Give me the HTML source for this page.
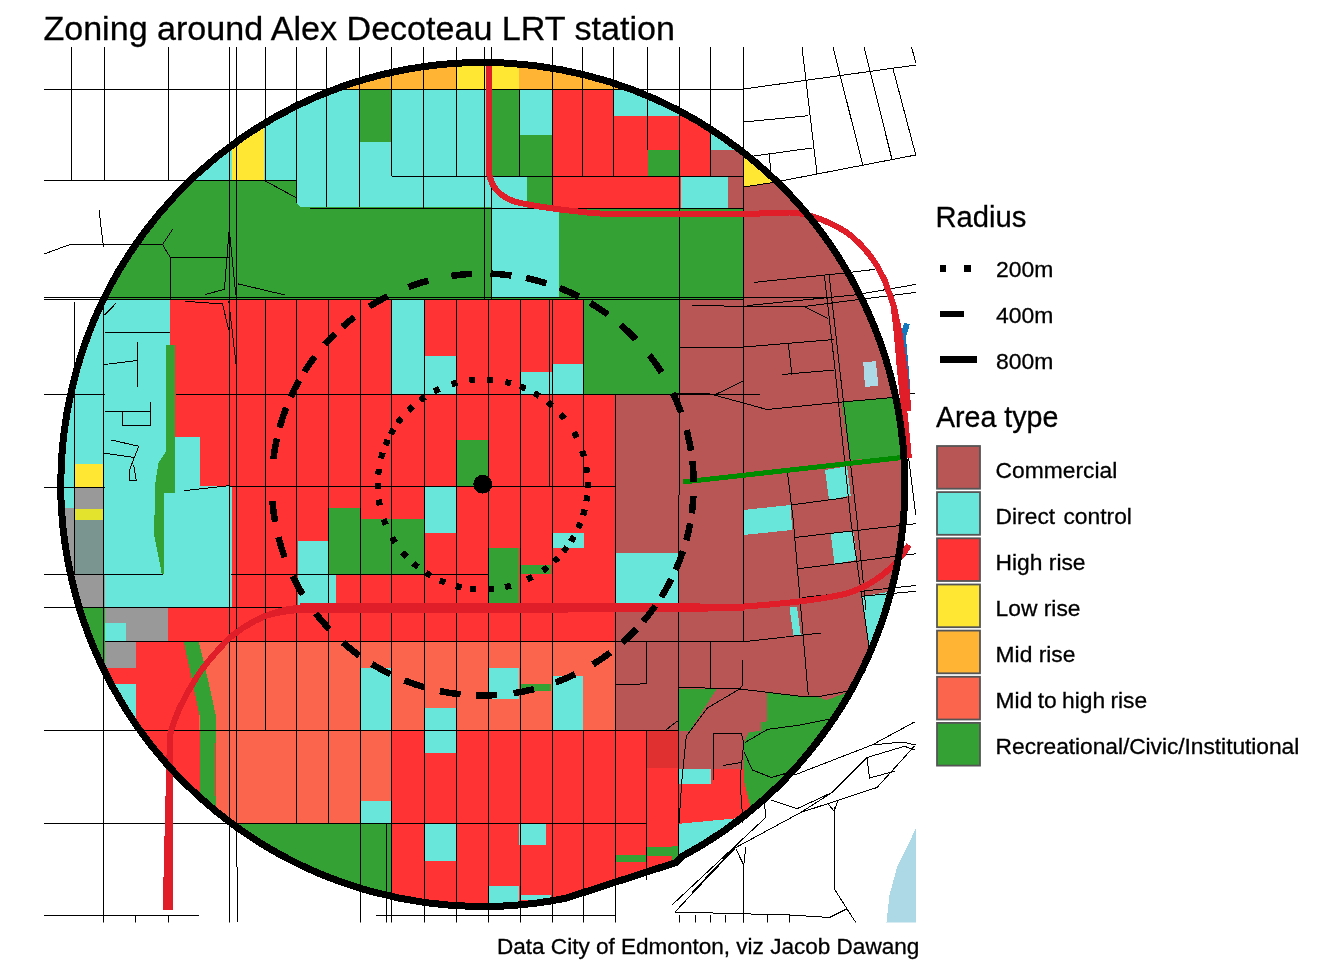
<!DOCTYPE html>
<html><head><meta charset="utf-8"><title>Zoning around Alex Decoteau LRT station</title>
<style>
html,body{margin:0;padding:0;background:#fff}
svg{display:block}
text{font-family:"Liberation Sans",Arial,sans-serif;fill:#000;stroke:#000;stroke-width:0.3px}
</style></head><body>
<svg width="1344" height="960" viewBox="0 0 1344 960">
<rect width="1344" height="960" fill="#fff"/>
<defs>
<clipPath id="circ"><path d="M565.9,898.2L676,862.5L680.9,857.1A422,422 0 1 0 565.9,898.2Z"/></clipPath>
<clipPath id="panel"><rect x="44" y="47" width="872" height="875.5"/></clipPath>
</defs>
<g clip-path="url(#panel)" shape-rendering="crispEdges">
<g clip-path="url(#circ)">
<rect x="40" y="40" width="880" height="890" fill="#FF3333"/>
<rect x="300" y="50" width="156" height="39" fill="#FFB533"/>
<rect x="456" y="50" width="63" height="39" fill="#FFE733"/>
<rect x="519" y="50" width="131" height="39" fill="#FFB533"/>
<rect x="150" y="89" width="82" height="92" fill="#69E6DA"/>
<rect x="232" y="89" width="31.5" height="92" fill="#FFE733"/>
<rect x="263.5" y="89" width="33.0" height="92" fill="#69E6DA"/>
<rect x="296.5" y="89" width="194.5" height="119" fill="#69E6DA"/>
<rect x="359.5" y="89" width="32.0" height="53" fill="#33A133"/>
<rect x="491" y="89" width="28" height="87.25" fill="#33A133"/>
<rect x="519" y="89" width="33.5" height="45.5" fill="#69E6DA"/>
<rect x="519" y="134.5" width="33.5" height="41.75" fill="#33A133"/>
<rect x="491" y="176.25" width="36" height="31.75" fill="#69E6DA"/>
<rect x="527" y="176.25" width="25.5" height="31.75" fill="#33A133"/>
<rect x="552.5" y="89" width="61.0" height="119" fill="#FF3333"/>
<rect x="613.5" y="89" width="86.5" height="27" fill="#69E6DA"/>
<rect x="613.5" y="116" width="66.25" height="92" fill="#FF3333"/>
<rect x="647.5" y="150" width="32.25" height="26.25" fill="#33A133"/>
<rect x="679.75" y="89" width="30.75" height="87.25" fill="#FF3333"/>
<rect x="710.5" y="89" width="33.25" height="61" fill="#69E6DA"/>
<rect x="710.5" y="150" width="33.25" height="26.25" fill="#B85555"/>
<rect x="680.75" y="176.25" width="47.25" height="31.75" fill="#69E6DA"/>
<rect x="728" y="176.25" width="15.75" height="31.75" fill="#B85555"/>
<rect x="40" y="181" width="256.5" height="118" fill="#33A133"/>
<polygon points="296.5,181 296.5,203 300,207 491,207 491,299 290,299 290,181" fill="#33A133"/>
<rect x="491" y="208" width="67.5" height="89.5" fill="#69E6DA"/>
<rect x="558.5" y="208" width="185.25" height="91.5" fill="#33A133"/>
<rect x="491" y="297.5" width="67.5" height="2.0" fill="#33A133"/>
<rect x="743.75" y="140" width="186.25" height="600" fill="#B85555"/>
<polygon points="743.75,140 800,140 773,182.5 743.75,187" fill="#FFE733"/>
<rect x="40" y="299" width="130" height="308" fill="#69E6DA"/>
<rect x="391.5" y="300" width="32.5" height="93.75" fill="#69E6DA"/>
<rect x="424" y="355.75" width="32" height="38.0" fill="#69E6DA"/>
<rect x="520.25" y="371.75" width="32.0" height="22.0" fill="#69E6DA"/>
<rect x="552.25" y="363.75" width="31.25" height="30.0" fill="#69E6DA"/>
<rect x="583.5" y="299.5" width="96.25" height="94.25" fill="#33A133"/>
<rect x="672" y="280" width="7.5" height="113.75" fill="#33A133"/>
<rect x="679.75" y="299.5" width="80.25" height="94.25" fill="#B85555"/>
<rect x="164" y="485.5" width="67.5" height="121.5" fill="#69E6DA"/>
<rect x="175" y="436.75" width="25" height="49.05" fill="#69E6DA"/>
<rect x="456.5" y="439.5" width="31.25" height="46.75" fill="#33A133"/>
<rect x="615.25" y="394" width="144.75" height="93" fill="#B85555"/>
<polygon points="841.5,402 893.25,397.5 902,456.25 850,460" fill="#33A133"/>
<polygon points="863.25,362.5 875.75,361 878.5,385.5 865,387" fill="#ADD8E6"/>
<polygon points="825,470 847,466.25 850.75,495.5 829,500" fill="#69E6DA"/>
<rect x="73.5" y="463.7" width="30.7" height="23.3" fill="#FFE733"/>
<rect x="73.5" y="487" width="30.7" height="21.5" fill="#999999"/>
<rect x="73.5" y="508.5" width="30.7" height="11.7" fill="#E3E32E"/>
<rect x="73.5" y="520.2" width="30.7" height="54.0" fill="#7A9590"/>
<rect x="40" y="508.3" width="33.5" height="65.9" fill="#999999"/>
<rect x="40" y="574.2" width="64.5" height="32.8" fill="#999999"/>
<rect x="104.5" y="487" width="59.5" height="120" fill="#69E6DA"/>
<polygon points="165.8,344.5 174.8,344.5 174.8,492.5 164.2,492.5 164.2,573.5 161.7,573.5 154.2,535 155,485 158.3,463.3 165.8,452" fill="#33A133"/>
<rect x="328.5" y="508.4" width="32.0" height="65.85" fill="#33A133"/>
<rect x="360.5" y="518.7" width="63.5" height="55.55" fill="#33A133"/>
<rect x="297.5" y="540.75" width="30.0" height="33.5" fill="#69E6DA"/>
<rect x="297.5" y="574.25" width="38.75" height="32.0" fill="#69E6DA"/>
<rect x="424.75" y="487" width="31.25" height="45.5" fill="#69E6DA"/>
<rect x="488.5" y="548.25" width="30.75" height="54.25" fill="#33A133"/>
<rect x="519.75" y="564.5" width="31.25" height="9.25" fill="#33A133"/>
<rect x="551.75" y="532.5" width="31.75" height="15.75" fill="#69E6DA"/>
<rect x="615.5" y="487" width="144.5" height="243.5" fill="#B85555"/>
<rect x="615.5" y="552.5" width="62.5" height="51.25" fill="#69E6DA"/>
<polygon points="743.25,510 790.75,505 792,530 743.25,535" fill="#69E6DA"/>
<polygon points="830.75,533.75 853.25,531.25 857,560 834.5,563.75" fill="#69E6DA"/>
<polygon points="789.5,607 797,607 800.75,635 793.25,635" fill="#69E6DA"/>
<polygon points="862,596.25 900,590 900,650 869.5,650" fill="#69E6DA"/>
<rect x="104.5" y="607" width="63.5" height="34.75" fill="#999999"/>
<rect x="104.5" y="622.5" width="21.75" height="18.75" fill="#69E6DA"/>
<polygon points="70,607 104.5,607 104.5,667.5 70,667.5" fill="#33A133"/>
<rect x="104.5" y="641.75" width="31.25" height="25.75" fill="#999999"/>
<rect x="104.5" y="667.5" width="31.25" height="16.25" fill="#FF3333"/>
<rect x="104.5" y="683.75" width="31.25" height="56.25" fill="#69E6DA"/>
<rect x="198.75" y="641.75" width="416.75" height="88.75" fill="#FC654D"/>
<rect x="216" y="730.5" width="175.5" height="92.0" fill="#FC654D"/>
<polygon points="183.75,641.75 198.75,641.75 208,680 216.25,717.5 215,760 216,830 200.5,830 200,717.5 192,680" fill="#33A133"/>
<rect x="361.25" y="667.5" width="29.75" height="63.0" fill="#69E6DA"/>
<rect x="424.75" y="707.5" width="30.75" height="45.0" fill="#69E6DA"/>
<rect x="488.5" y="667.5" width="30.75" height="31.25" fill="#69E6DA"/>
<rect x="520.25" y="683.75" width="30.75" height="7.5" fill="#33A133"/>
<rect x="551.75" y="675.5" width="31.25" height="54.5" fill="#69E6DA"/>
<polygon points="679,688.5 716.5,689 689.4,731.5 679,730.6" fill="#33A133"/>
<polygon points="766.9,691.9 800,696.25 817,697 827,700 847,692.5 900,670 900,830 752,830 749.5,802.5 743.75,780 743.75,742.5 748.75,732.5 760.6,730.6 760.6,722.5 766.9,721.25" fill="#33A133"/>
<rect x="360.5" y="800.5" width="31.0" height="22.0" fill="#69E6DA"/>
<rect x="647.25" y="730.5" width="30.75" height="37.5" fill="#E03030"/>
<rect x="678" y="730.5" width="65.5" height="38.25" fill="#B85555"/>
<rect x="679" y="768.75" width="31.75" height="15.0" fill="#69E6DA"/>
<polygon points="679,823.75 732,818.75 760,815 760,900 679,900" fill="#69E6DA"/>
<rect x="231" y="822.5" width="159.5" height="107.5" fill="#33A133"/>
<rect x="424" y="823.75" width="31.5" height="37.5" fill="#69E6DA"/>
<rect x="519.25" y="823.75" width="26.25" height="21.25" fill="#69E6DA"/>
<rect x="488" y="885.5" width="31.25" height="19.5" fill="#69E6DA"/>
<rect x="519.75" y="894.5" width="31.25" height="5.5" fill="#69E6DA"/>
<rect x="615.5" y="855" width="31.0" height="7" fill="#33A133"/>
<rect x="647.25" y="846.75" width="27.5" height="9.5" fill="#33A133"/>
<rect x="672" y="846" width="6" height="14" fill="#33A133"/>
</g>
<!-- river -->
<polygon points="915.75,828.75 897,867.5 889.5,895 886.5,922.5 916,922.5" fill="#ADD8E6"/>
<g>
<polyline points="71.25,47 71.25,181" fill="none" stroke="#000" stroke-width="1"/>
<polyline points="104.5,47 104.5,181" fill="none" stroke="#000" stroke-width="1"/>
<polyline points="168.5,47 168.5,181" fill="none" stroke="#000" stroke-width="1"/>
<polyline points="229.5,47 229.5,922.5" fill="none" stroke="#000" stroke-width="1"/>
<polyline points="236.2,47 236.2,800" fill="none" stroke="#000" stroke-width="1"/>
<polyline points="265.5,47 265.5,181" fill="none" stroke="#000" stroke-width="1"/>
<polyline points="296.6,47 296.6,203" fill="none" stroke="#000" stroke-width="1"/>
<polyline points="326.5,47 326.5,207" fill="none" stroke="#000" stroke-width="1"/>
<polyline points="359.5,47 359.5,207" fill="none" stroke="#000" stroke-width="1"/>
<polyline points="391.5,47 391.5,176.25" fill="none" stroke="#000" stroke-width="1"/>
<polyline points="423.5,47 423.5,208" fill="none" stroke="#000" stroke-width="1"/>
<polyline points="456,47 456,176.25" fill="none" stroke="#000" stroke-width="1"/>
<polyline points="484,47 484,299" fill="none" stroke="#000" stroke-width="1"/>
<polyline points="491,47 491,299" fill="none" stroke="#000" stroke-width="1"/>
<polyline points="519,89 519,176.25" fill="none" stroke="#000" stroke-width="1"/>
<polyline points="552.5,47 552.5,208" fill="none" stroke="#000" stroke-width="1"/>
<polyline points="582.5,47 582.5,176.25" fill="none" stroke="#000" stroke-width="1"/>
<polyline points="613.5,47 613.5,176.25" fill="none" stroke="#000" stroke-width="1"/>
<polyline points="647.5,47 647.5,150" fill="none" stroke="#000" stroke-width="1"/>
<polyline points="710.5,47 710.5,176.25" fill="none" stroke="#000" stroke-width="1"/>
<polyline points="743.75,47 743.75,641.75" fill="none" stroke="#000" stroke-width="1"/>
<polyline points="74.25,302 74.25,574" fill="none" stroke="#000" stroke-width="1"/>
<polyline points="103.75,299 103.75,922.5" fill="none" stroke="#000" stroke-width="1"/>
<polyline points="265.7,299 265.7,730.5" fill="none" stroke="#000" stroke-width="1"/>
<polyline points="296.9,299 296.9,822.5" fill="none" stroke="#000" stroke-width="1"/>
<polyline points="328.5,299 328.5,822.5" fill="none" stroke="#000" stroke-width="1"/>
<polyline points="360.8,299 360.8,922.5" fill="none" stroke="#000" stroke-width="1"/>
<polyline points="391.7,299 391.7,922.5" fill="none" stroke="#000" stroke-width="1"/>
<polyline points="386,823 386,922.5" fill="none" stroke="#000" stroke-width="1"/>
<polyline points="424,299 424,922.5" fill="none" stroke="#000" stroke-width="1"/>
<polyline points="456.2,299 456.2,922.5" fill="none" stroke="#000" stroke-width="1"/>
<polyline points="488.4,299 488.4,922.5" fill="none" stroke="#000" stroke-width="1"/>
<polyline points="520,299 520,922.5" fill="none" stroke="#000" stroke-width="1"/>
<polyline points="549.75,299 549.75,487" fill="none" stroke="#000" stroke-width="1"/>
<polyline points="552,299 552,922.5" fill="none" stroke="#000" stroke-width="1"/>
<polyline points="583.5,299 583.5,487" fill="none" stroke="#000" stroke-width="1"/>
<polyline points="583.5,730.5 583.5,922.5" fill="none" stroke="#000" stroke-width="1"/>
<polyline points="615.4,394 615.4,922.5" fill="none" stroke="#000" stroke-width="1"/>
<polyline points="646.5,730.5 646.5,880" fill="none" stroke="#000" stroke-width="1"/>
<polyline points="236.2,800 237.7,922.5" fill="none" stroke="#000" stroke-width="1"/>
<polyline points="679.75,47 679.5,394 678.1,690 678.5,860" fill="none" stroke="#000" stroke-width="1"/>
<polyline points="44,89 743.75,89" fill="none" stroke="#000" stroke-width="1"/>
<polyline points="44,180.9 296.5,180.9" fill="none" stroke="#000" stroke-width="1"/>
<polyline points="391.5,176.25 743.75,176.25" fill="none" stroke="#000" stroke-width="1"/>
<polyline points="310,208 743.75,208" fill="none" stroke="#000" stroke-width="1"/>
<polyline points="44,297.5 743.75,297.5" fill="none" stroke="#000" stroke-width="1"/>
<polyline points="44,299.5 743.75,299.5" fill="none" stroke="#000" stroke-width="1"/>
<polyline points="44,394.3 104.5,394.3" fill="none" stroke="#000" stroke-width="1"/>
<polyline points="176,394.3 760,394.3" fill="none" stroke="#000" stroke-width="1"/>
<polyline points="44,487 104.5,487" fill="none" stroke="#000" stroke-width="1"/>
<polyline points="230,486.5 615,486.5" fill="none" stroke="#000" stroke-width="1"/>
<polyline points="44,574.25 163,574.25" fill="none" stroke="#000" stroke-width="1"/>
<polyline points="231,574.25 488,574.25" fill="none" stroke="#000" stroke-width="1"/>
<polyline points="44,607 300,607" fill="none" stroke="#000" stroke-width="1"/>
<polyline points="104.5,641.75 743.75,641.75" fill="none" stroke="#000" stroke-width="1"/>
<polyline points="44,730.5 679,730.5" fill="none" stroke="#000" stroke-width="1"/>
<polyline points="44,823 231,823" fill="none" stroke="#000" stroke-width="1"/>
<polyline points="231,823 646.5,823" fill="none" stroke="#000" stroke-width="1"/>
<polyline points="44,915.75 198.75,915.75" fill="none" stroke="#000" stroke-width="1"/>
<polyline points="376,915.75 614.75,915.75" fill="none" stroke="#000" stroke-width="1"/>
<polyline points="104.5,332.5 170,332.5" fill="none" stroke="#000" stroke-width="1"/>
<polyline points="183.75,490.75 230,485.5" fill="none" stroke="#000" stroke-width="1"/>
<polyline points="743.75,89 916,65" fill="none" stroke="#000" stroke-width="1"/>
<polyline points="802,47 817,173.75" fill="none" stroke="#000" stroke-width="1"/>
<polyline points="833,47 863,166" fill="none" stroke="#000" stroke-width="1"/>
<polyline points="864,47 892,159.5" fill="none" stroke="#000" stroke-width="1"/>
<polyline points="893,68.75 915.75,155" fill="none" stroke="#000" stroke-width="1"/>
<polyline points="911.5,47 915.75,62.5" fill="none" stroke="#000" stroke-width="1"/>
<polyline points="773,182.5 915.75,155" fill="none" stroke="#000" stroke-width="1"/>
<polyline points="743.75,122 808,115.75" fill="none" stroke="#000" stroke-width="1"/>
<polyline points="754,156 812,148" fill="none" stroke="#000" stroke-width="1"/>
<polyline points="769,153.75 771.5,176" fill="none" stroke="#000" stroke-width="1"/>
<polyline points="743.75,187 773,182.5" fill="none" stroke="#000" stroke-width="1"/>
<polyline points="743.75,297.5 826,297" fill="none" stroke="#000" stroke-width="1"/>
<polyline points="746.7,305.6 855.2,294.9 914.8,284.6 916,284.4" fill="none" stroke="#000" stroke-width="1"/>
<polyline points="692,305 740,306.5 804.3,306.5 857.9,299.6 916,292.4" fill="none" stroke="#000" stroke-width="1"/>
<polyline points="754,282.4 844.5,273 874.6,269.4" fill="none" stroke="#000" stroke-width="1"/>
<polyline points="679.5,347 743.75,347 834.5,339.5" fill="none" stroke="#000" stroke-width="1"/>
<polyline points="788.25,343.75 792,375" fill="none" stroke="#000" stroke-width="1"/>
<polyline points="782,374.5 834.5,370" fill="none" stroke="#000" stroke-width="1"/>
<polyline points="672,393.75 709.5,393.75 767,409.5 842,402 893,397.5" fill="none" stroke="#000" stroke-width="1"/>
<polyline points="714.5,395 743.75,380.75" fill="none" stroke="#000" stroke-width="1"/>
<polyline points="824.4,275.4 835.1,370 850.75,520 869.5,650" fill="none" stroke="#000" stroke-width="1"/>
<polyline points="829.1,274.8 839.8,370 857,520 866,610" fill="none" stroke="#000" stroke-width="1"/>
<polyline points="787.5,472.5 793.25,520 808.25,695" fill="none" stroke="#000" stroke-width="1"/>
<polyline points="790.75,505 847,497.5" fill="none" stroke="#000" stroke-width="1"/>
<polyline points="805,306.9 827.7,318.3" fill="none" stroke="#000" stroke-width="1"/>
<polyline points="908.25,455 915.75,515" fill="none" stroke="#000" stroke-width="1"/>
<polyline points="908,393.75 914.5,393.75" fill="none" stroke="#000" stroke-width="1"/>
<polyline points="743.75,641.75 820.75,633" fill="none" stroke="#000" stroke-width="1"/>
<polyline points="710.75,641.75 710.75,687.5" fill="none" stroke="#000" stroke-width="1"/>
<polyline points="678.1,687.25 740,689 800,696.25 817,697 847,691.25" fill="none" stroke="#000" stroke-width="1"/>
<polyline points="794.5,537.5 915.75,523.75" fill="none" stroke="#000" stroke-width="1"/>
<polyline points="798.25,568.75 915.75,553.75" fill="none" stroke="#000" stroke-width="1"/>
<polyline points="802,597.5 915.75,585.5" fill="none" stroke="#000" stroke-width="1"/>
<polyline points="862,596.25 915.75,591.25" fill="none" stroke="#000" stroke-width="1"/>
<polyline points="615.5,685 646.5,683.75 646.5,641.75" fill="none" stroke="#000" stroke-width="1"/>
<polyline points="665,730.6 677.5,721" fill="none" stroke="#000" stroke-width="1"/>
<polyline points="740,688.75 707.5,708 686.25,736.25 681.9,780 679,823" fill="none" stroke="#000" stroke-width="1"/>
<polyline points="713,780 713,733.75 741.25,733.75 743.75,742.5 740,780 743,823" fill="none" stroke="#000" stroke-width="1"/>
<polyline points="723,765.6 741.25,762.5" fill="none" stroke="#000" stroke-width="1"/>
<polyline points="745,742.5 767.5,729.4 800,725 835,718" fill="none" stroke="#000" stroke-width="1"/>
<polyline points="744,752 752.5,770 771.25,777.5 788.75,772.5 800,765" fill="none" stroke="#000" stroke-width="1"/>
<polyline points="742.5,660 742.5,685 740,688.75" fill="none" stroke="#000" stroke-width="1"/>
<polyline points="672,905 765.75,817.5 764.5,803.75" fill="none" stroke="#000" stroke-width="1"/>
<polyline points="674.5,912.5 735.75,847.5 800.75,812.5 832,792.5 867,757.5 904.5,746.25 914.5,750" fill="none" stroke="#000" stroke-width="1"/>
<polyline points="692,892.5 737,845" fill="none" stroke="#000" stroke-width="1"/>
<polyline points="770.75,800 797,808.75 832,792.5" fill="none" stroke="#000" stroke-width="1"/>
<polyline points="794.5,775 872,745 914.5,722" fill="none" stroke="#000" stroke-width="1"/>
<polyline points="872,745 902,742 915.75,745" fill="none" stroke="#000" stroke-width="1"/>
<polyline points="800.75,812.5 877,787.5 914.5,746" fill="none" stroke="#000" stroke-width="1"/>
<polyline points="867,757.5 869.5,778 894.5,771.25" fill="none" stroke="#000" stroke-width="1"/>
<polyline points="834,805 835,890 855.75,922.5" fill="none" stroke="#000" stroke-width="1"/>
<polyline points="828.25,803.75 834,811.25 838.25,800" fill="none" stroke="#000" stroke-width="1"/>
<polyline points="743.75,865 743.75,922.5" fill="none" stroke="#000" stroke-width="1"/>
<polyline points="735.75,848.75 743.75,865 745.75,847.5" fill="none" stroke="#000" stroke-width="1"/>
<polyline points="674.5,912 789.5,915 829.5,917.5 847,908.75" fill="none" stroke="#000" stroke-width="1"/>
<polyline points="679.5,915 679.5,922.5" fill="none" stroke="#000" stroke-width="1"/>
<polyline points="695.75,915 695.75,922.5" fill="none" stroke="#000" stroke-width="1"/>
<polyline points="710.75,915 710.75,922.5" fill="none" stroke="#000" stroke-width="1"/>
<polyline points="725.75,915 725.75,922.5" fill="none" stroke="#000" stroke-width="1"/>
<polyline points="743.75,915 743.75,922.5" fill="none" stroke="#000" stroke-width="1"/>
<polyline points="767,915 767,922.5" fill="none" stroke="#000" stroke-width="1"/>
<polyline points="789.5,915 789.5,922.5" fill="none" stroke="#000" stroke-width="1"/>
<polyline points="135,915.75 135,922.5" fill="none" stroke="#000" stroke-width="1"/>
<polyline points="168.25,915.75 168.25,922.5" fill="none" stroke="#000" stroke-width="1"/>
<polyline points="137,342 137,387" fill="none" stroke="#000" stroke-width="1"/>
<polyline points="104.5,364.5 137,360.5" fill="none" stroke="#000" stroke-width="1"/>
<polyline points="150.5,402 150.5,425" fill="none" stroke="#000" stroke-width="1"/>
<polyline points="104.5,411.25 150.5,411.25" fill="none" stroke="#000" stroke-width="1"/>
<polyline points="122.5,411.25 122.5,425 150.5,425" fill="none" stroke="#000" stroke-width="1"/>
<polyline points="111.25,440 138.75,446.25 129.5,470 129.5,480 136.25,480 133.75,465" fill="none" stroke="#000" stroke-width="1"/>
<polyline points="104.5,453.25 135,457.5" fill="none" stroke="#000" stroke-width="1"/>
<polyline points="104.5,315 116.25,303" fill="none" stroke="#000" stroke-width="1"/>
<polyline points="228.75,301 236.25,366" fill="none" stroke="#000" stroke-width="1"/>
<polyline points="229.2,229.4 224.4,289.4 204.6,294.6" fill="none" stroke="#000" stroke-width="1"/>
<polyline points="229.2,229.4 235.8,294.6" fill="none" stroke="#000" stroke-width="1"/>
<polyline points="185,301.25 222.5,304 228.75,330" fill="none" stroke="#000" stroke-width="1"/>
<polyline points="237.5,283.75 285,295" fill="none" stroke="#000" stroke-width="1"/>
<polyline points="265.5,181 296.5,198" fill="none" stroke="#000" stroke-width="1"/>
<polyline points="99,210 103.5,247" fill="none" stroke="#000" stroke-width="1"/>
<polyline points="44,254 70,244.5 162.5,244.5 170,257 228.75,258" fill="none" stroke="#000" stroke-width="1"/>
<polyline points="162.5,244.5 172.5,229.5" fill="none" stroke="#000" stroke-width="1"/>
<polyline points="170,257 170,299" fill="none" stroke="#000" stroke-width="1"/>
</g>
<!-- LRT lines -->
<g fill="none" stroke="#E01E2A" stroke-width="6" stroke-linejoin="round">
<path d="M907,323.5 L903,337 L906,370 L907.5,392" stroke="#1478BE" stroke-width="5.8"/>
<path d="M488.5,62 L488.5,168 Q490,196 520,203 Q560,211 612,214.5 L745,214 L789.5,212.5 Q815,213 847,232.5 Q872,252 884.5,280 L893.5,305 L896.8,333 L899.5,365 L902.5,395 L905.8,425 L908.9,458"/>
<path d="M909,545 C895,568 876,584 847,593.5 C820,600 780,604 744.5,606.5 L680,607 L300,607.5 Q262,611 230,637.5 Q205,663 195,680 Q176,710 170,735 L170,910"/>
<path d="M744.5,607.5 L680,609.3 L300,610 Q280,611 262,617"/>
<path d="M700,606 L300,606"/>
<path d="M893.5,305 L899.5,333 L904.3,367 L907.3,397 L908.3,411" stroke-linecap="butt"/>
<path d="M170,735 L165.7,910"/>
</g>
<path d="M683.25,482 L902,457.5" stroke="#008B00" stroke-width="5" fill="none"/>
<!-- radius rings -->
<path d="M565.9,898.2L676,862.5L680.9,857.1A422,422 0 1 0 565.9,898.2Z" fill="none" stroke="#000" stroke-width="7" stroke-linejoin="round"/>
<path d="M273.3,459.1A211,211 0 0 1 276.9,438.4M279.6,427.6A211,211 0 0 1 286.2,407.7M290.8,396.9A211,211 0 0 1 299.2,380.4M304.4,371.8A211,211 0 0 1 314.9,356.6M324.8,344.6A211,211 0 0 1 335.2,333.6M342.6,326.8A211,211 0 0 1 354.3,317.1M369.5,306.5A211,211 0 0 1 387.7,296.1M408.4,287.0A211,211 0 0 1 428.3,280.6M451.3,275.9A211,211 0 0 1 472.2,273.8M490.5,273.6A211,211 0 0 1 511.4,275.5M526.0,278.0A211,211 0 0 1 546.3,283.3M559.7,288.0A211,211 0 0 1 578.9,296.7M590.4,303.0A211,211 0 0 1 607.9,314.6M620.7,324.8A211,211 0 0 1 635.8,339.3M649.4,355.1A211,211 0 0 1 661.5,372.3M673.0,393.2A211,211 0 0 1 681.1,412.5M686.6,430.1A211,211 0 0 1 691.0,450.6M692.4,461.0A211,211 0 0 1 693.7,482.0M693.4,496.2A211,211 0 0 1 691.8,513.4M690.2,523.3A211,211 0 0 1 686.3,540.2M683.0,551.1A211,211 0 0 1 675.7,570.0M671.3,579.1A211,211 0 0 1 661.3,597.0M655.3,605.9A211,211 0 0 1 643.3,621.4M636.6,628.9A211,211 0 0 1 622.5,642.6M610.3,652.6A211,211 0 0 1 592.9,664.4M575.0,674.2A211,211 0 0 1 555.7,682.5M534.1,689.1A211,211 0 0 1 513.5,693.2M496.7,695.0A211,211 0 0 1 475.7,695.4M460.6,694.3A211,211 0 0 1 439.9,691.1M424.3,687.2A211,211 0 0 1 404.4,680.4M390.3,674.2A211,211 0 0 1 371.9,664.0M359.3,655.6A211,211 0 0 1 342.9,642.5M329.4,629.4A211,211 0 0 1 315.7,613.4M302.7,594.5A211,211 0 0 1 292.7,576.1M284.7,557.3A211,211 0 0 1 278.4,537.2M275.1,521.8A211,211 0 0 1 272.4,500.9" fill="none" stroke="#000" stroke-width="6.5"/>
<path d="M378.2,474.7L378.9,468.8M381.0,458.4L382.7,452.6M385.4,445.2L387.8,439.7M390.5,434.3L393.6,429.1M397.8,422.8L401.5,418.0M408.4,410.4L412.7,406.2M420.0,400.3L424.9,396.9M434.0,391.5L439.4,388.9M451.5,384.2L457.3,382.6M469.3,380.4L475.2,379.8M487.1,379.6L493.1,380.0M505.2,381.9L511.0,383.4M519.9,386.3L525.5,388.6M534.1,392.9L539.2,396.0M547.6,401.9L552.2,405.8M560.6,414.1L564.5,418.6M573.9,432.3L576.7,437.6M582.2,450.8L584.0,456.6M586.3,466.9L587.1,472.8M587.7,482.3L587.7,488.3M587.2,495.4L586.4,501.3M584.7,509.4L583.2,515.2M580.5,522.7L578.2,528.2M574.0,536.4L570.9,541.5M567.1,547.0L563.4,551.7M558.3,557.4L554.0,561.6M547.6,567.1L542.8,570.7M532.6,576.9L527.2,579.6M511.0,585.6L505.1,587.1M494.1,588.9L488.1,589.4M476.1,589.3L470.2,588.7M461.6,587.3L455.7,586.0M445.2,582.6L439.7,580.3M430.9,575.8L425.8,572.7M417.9,567.1L413.3,563.3M406.6,556.8L402.6,552.3M395.3,542.6L392.1,537.5M385.8,524.7L383.6,519.1M379.8,505.4L378.8,499.5M377.9,489.2L377.8,483.2" fill="none" stroke="#000" stroke-width="6.2"/>
<circle cx="482.75" cy="484.25" r="9.4" fill="#000"/>
</g>
<!-- title / caption -->
<text x="43.4" y="40" font-size="34.1">Zoning around Alex Decoteau LRT station</text>
<text x="919.3" y="953.8" font-size="22.56" text-anchor="end">Data City of Edmonton, viz Jacob Dawang</text>
<!-- legend -->
<text x="935.4" y="227.2" font-size="29.2">Radius</text>
<g shape-rendering="crispEdges" stroke="#000" stroke-width="6.5" fill="none">
<path d="M939.7,268.5 H976.5" stroke-dasharray="6.2 18.5"/>
<path d="M939.7,313.8 H963.8"/>
<path d="M939.7,359.7 H976.9"/>
</g>
<g font-size="22.9">
<text x="996" y="276.9">200m</text>
<text x="996" y="322.9">400m</text>
<text x="996" y="368.9">800m</text>
</g>
<text x="936" y="426.9" font-size="28.6">Area type</text>
<rect x="937" y="446.0" width="43" height="42.7" fill="#B85555" stroke="#555" stroke-width="1.8"/>
<text x="995.6" y="477.50" font-size="22.8">Commercial</text>
<rect x="937" y="492.1" width="43" height="42.7" fill="#69E6DA" stroke="#555" stroke-width="1.8"/>
<text x="995.6" y="523.55" font-size="22.8" word-spacing="2">Direct control</text>
<rect x="937" y="538.3" width="43" height="42.7" fill="#FF3333" stroke="#555" stroke-width="1.8"/>
<text x="995.6" y="569.60" font-size="22.8">High rise</text>
<rect x="937" y="584.5" width="43" height="42.7" fill="#FFE733" stroke="#555" stroke-width="1.8"/>
<text x="995.6" y="615.65" font-size="22.8">Low rise</text>
<rect x="937" y="630.6" width="43" height="42.7" fill="#FFB533" stroke="#555" stroke-width="1.8"/>
<text x="995.6" y="661.70" font-size="22.8">Mid rise</text>
<rect x="937" y="676.8" width="43" height="42.7" fill="#FC654D" stroke="#555" stroke-width="1.8"/>
<text x="995.6" y="707.75" font-size="22.8" word-spacing="-1">Mid to high rise</text>
<rect x="937" y="722.9" width="43" height="42.7" fill="#33A133" stroke="#555" stroke-width="1.8"/>
<text x="995.6" y="753.80" font-size="22.8" letter-spacing="-0.055">Recreational/Civic/Institutional</text>
</svg>
</body></html>
